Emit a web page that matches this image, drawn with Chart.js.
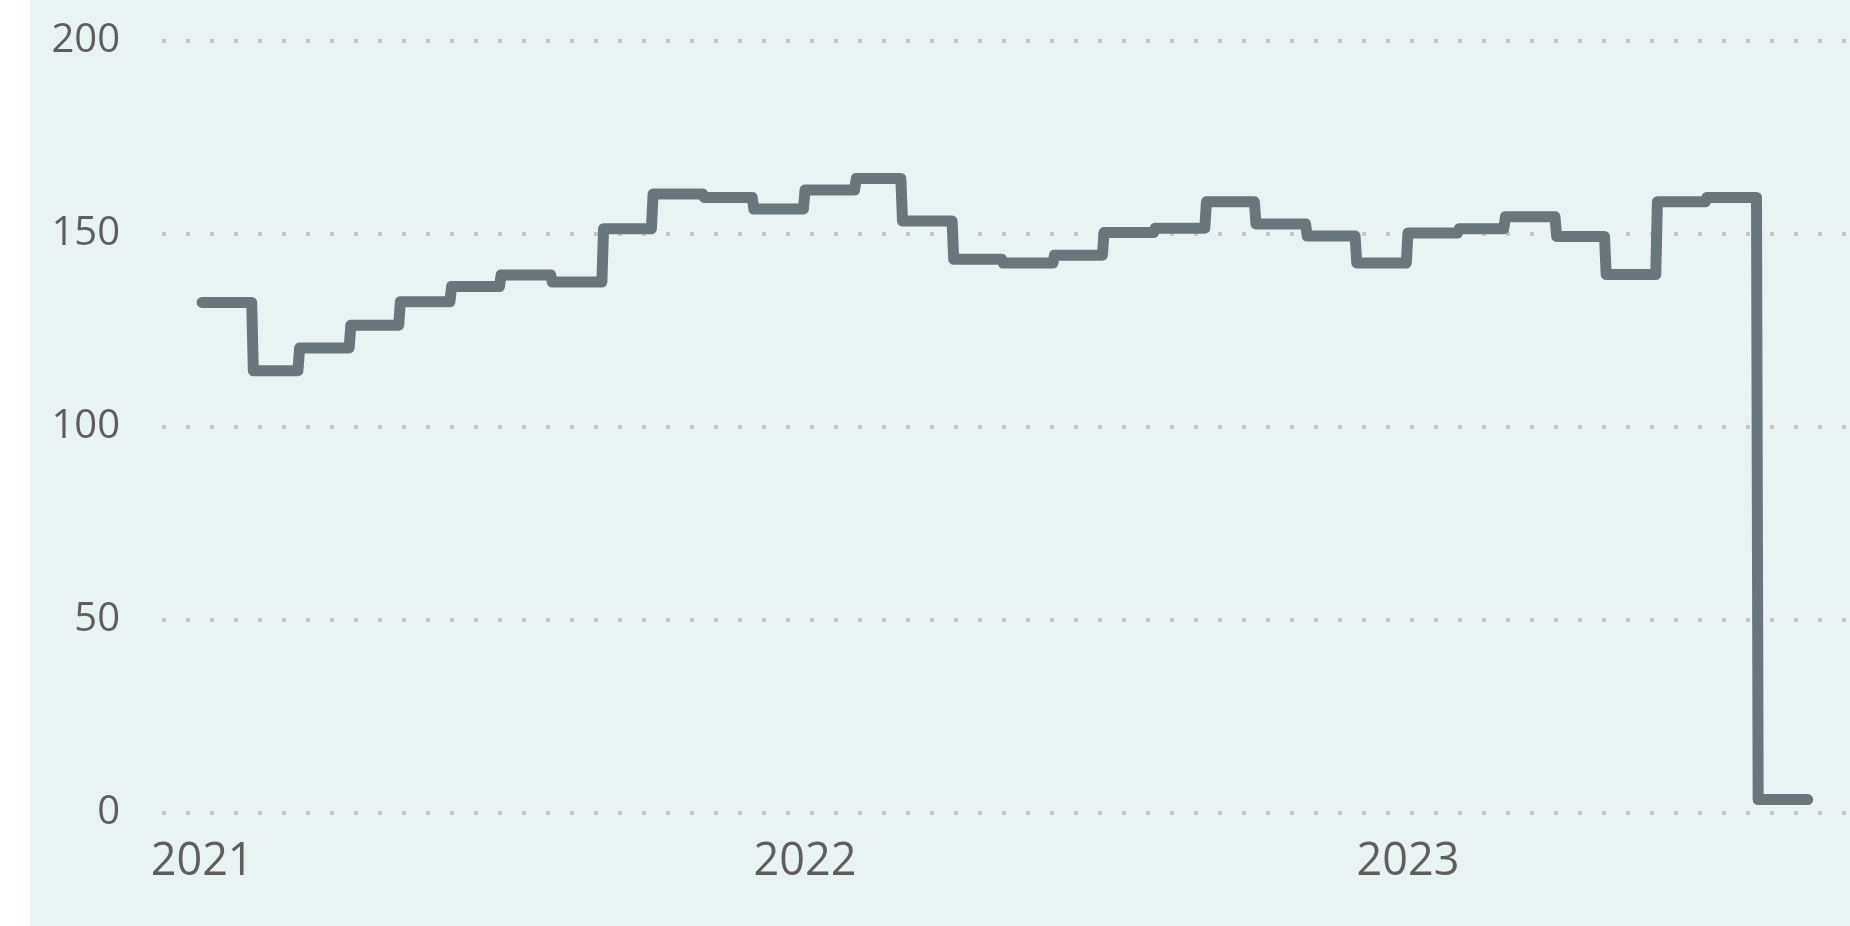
<!DOCTYPE html>
<html>
<head>
<meta charset="utf-8">
<script src="https://cdn.jsdelivr.net/npm/chart.js@4.4.1/dist/chart.umd.min.js"></script>
<style>
  html, body { margin: 0; padding: 0; background: #ffffff; }
  #wrap { position: absolute; left: 30px; top: 0; width: 1820px; height: 926px; background: #e9f3f4; }
</style>
</head>
<body>
<div id="wrap"><canvas id="chart"></canvas></div>
<script>
// monthly values, Jan 2021 .. Aug 2023
const startYear = 2021;
const monthValues = [
  132.2, 114.5, 120.4, 126.3, 132.4, 136.3, 139.3, 137.5, 151.3, 160.3, 159.4, 156.4,
  161.3, 164.3, 153.3, 143.4, 142.4, 144.4, 150.3, 151.4, 158.3, 152.5, 149.4, 142.4,
  150.2, 151.3, 154.4, 149.3, 139.4, 158.3, 159.4, 3.4
];
const yearLabels = ['2021', '2022', '2023'];
const yTicks = [0, 50, 100, 150, 200];

const DAY = 86400000;
const origin = Date.UTC(startYear, 0, 1);
const dayOf = (y, m, d) => (Date.UTC(y, m, d) - origin) / DAY;

// each month is drawn flat from its first to its last day
const points = [];
monthValues.forEach((v, i) => {
  const y = startYear + Math.floor(i / 12);
  const m = i % 12;
  points.push({ x: dayOf(y, m, 1), y: v });
  points.push({ x: dayOf(y, m + 1, 0), y: v });
});

const yearDays = yearLabels.map(l => dayOf(+l, 0, 1));

new Chart(document.getElementById('chart'), {
  type: 'line',
  data: {
    datasets: [{
      data: points,
      borderColor: '#69767b',
      borderWidth: 11,
      borderCapStyle: 'round',
      borderJoinStyle: 'round',
      pointRadius: 0,
      tension: 0,
      fill: false
    }]
  },
  options: {
    responsive: true,
    maintainAspectRatio: false,
    animation: false,
    layout: { padding: { top: 40.7, left: 0, right: 0, bottom: 0 } },
    plugins: { legend: { display: false }, tooltip: { enabled: false } },
    scales: {
      x: {
        type: 'linear',
        min: -24.3,
        max: 997.6,
        grid: { display: false, drawTicks: false },
        border: { display: false },
        afterBuildTicks: s => { s.ticks = yearDays.map(v => ({ value: v })); },
        afterFit: s => { s.height = 113.3; },
        ticks: {
          padding: 22,
          color: '#605e5c',
          font: { family: 'Open Sans', size: 45 },
          maxRotation: 0,
          callback: v => yearLabels[yearDays.indexOf(v)]
        }
      },
      y: {
        min: 0,
        max: 200,
        afterBuildTicks: s => { s.ticks = yTicks.map(v => ({ value: v })); },
        afterFit: s => {
          s.width = 132;
          s.paddingTop = 0;
          s.paddingBottom = 0;
        },
        grid: { color: '#c8c6c4', lineWidth: 4, drawTicks: false },
        border: { display: false, dash: [4, 20] },
        ticks: {
          padding: 42,
          color: '#605e5c',
          font: { family: 'Open Sans', size: 40 }
        }
      }
    }
  }
});
</script>
</body>
</html>
